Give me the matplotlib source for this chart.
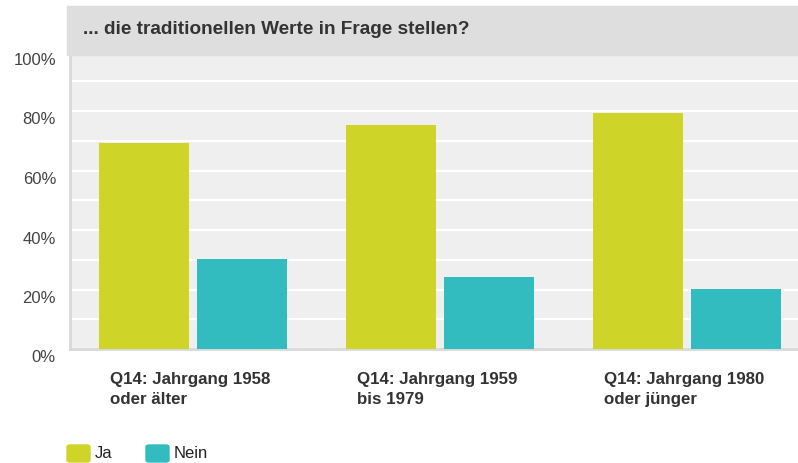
import matplotlib

matplotlib.use("Agg")
import matplotlib.pyplot as plt
import numpy as np
from matplotlib.patches import FancyBboxPatch, Rectangle

title = "... die traditionellen Werte in Frage stellen?"
categories = [
    "Q14: Jahrgang 1958\noder älter",
    "Q14: Jahrgang 1959\nbis 1979",
    "Q14: Jahrgang 1980\noder jünger",
]
series_names = ["Ja", "Nein"]
ja = [69.4, 75.3, 79.3]
nein = [30.3, 24.2, 20.2]
colors = ["#cfd528", "#33bcbf"]

plt.rcParams["font.family"] = ["Liberation Sans", "DejaVu Sans"]

W, H = 798, 463
fig = plt.figure(figsize=(W / 100, H / 100), dpi=100)

# axes in pixel coordinates (plot runs past the right edge)
x0, x1 = 70, 810
y_zero, y_top = 349, 55
px_per_pct = 2.975
ax = fig.add_axes([x0 / W, (H - y_zero) / H, (x1 - x0) / W, (y_zero - y_top) / H])
ax.set_facecolor("#efefef")
ax.set_xlim(-0.5, len(categories) - 0.5)
ax.set_ylim(0, (y_zero - y_top) / px_per_pct)

x = np.arange(len(categories))
w = 0.365
off = 0.199
ax.bar(x - off, ja, w, color=colors[0], zorder=3)
ax.bar(x + off, nein, w, color=colors[1], zorder=3)

for v in range(10, 100, 10):
    ax.axhline(v, color="white", lw=1.6, zorder=1)

for s in ["top", "right"]:
    ax.spines[s].set_visible(False)
ax.spines["left"].set_color("#d9d9d9")
ax.spines["left"].set_linewidth(2)
ax.spines["bottom"].set_color("#d9d9d9")
ax.spines["bottom"].set_linewidth(2)
ax.set_xticks([])
ax.set_yticks([])

# y tick labels sit a bit below their gridlines
for v in range(0, 101, 20):
    ypx = y_zero - v * px_per_pct + 9
    fig.text(56 / W, 1 - ypx / H, f"{v}%", ha="right", va="center",
             fontsize=12, color="#444444")

# category labels
for i, lab in enumerate(categories):
    cx = x0 + (i + 0.5) * (x1 - x0) / len(categories)
    fig.text((cx - 83) / W, 1 - 372 / H, lab, ha="left", va="top",
             fontsize=12.2, fontweight="bold",
             color="#333333", linespacing=1.4)

# title bar
fig.patches.append(Rectangle((67 / W, 1 - 55 / H), 1, 49 / H,
                             transform=fig.transFigure, color="#dedede",
                             zorder=5))
fig.text(83 / W, 1 - 29 / H, title, ha="left", va="center", fontsize=13.7,
         fontweight="bold", color="#333333", zorder=6)

# legend
for name, col, sx in zip(series_names, colors, [67, 146]):
    fig.patches.append(FancyBboxPatch((sx / W, 1 - 462 / H), 23 / W, 17 / H,
                                      boxstyle="round,pad=0,rounding_size=0.004",
                                      transform=fig.transFigure, color=col))
    fig.text((sx + 28) / W, 1 - 453 / H, name, ha="left", va="center",
             fontsize=12, color="#222222")

fig.savefig("out.png", dpi=100)
